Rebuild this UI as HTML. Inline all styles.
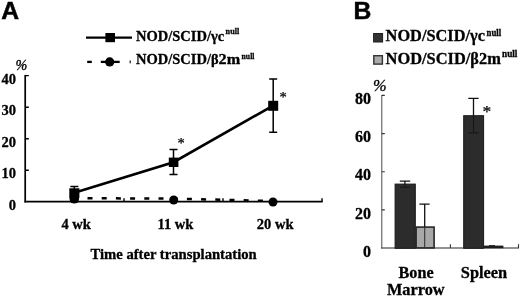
<!DOCTYPE html>
<html>
<head>
<meta charset="utf-8">
<title>Figure</title>
<style>
html,body{margin:0;padding:0;background:#fff;}
body{width:520px;height:297px;overflow:hidden;}
svg{display:block;will-change:transform;transform:translateZ(0);}
text{font-family:"Liberation Serif",serif;font-weight:bold;fill:#000;stroke:#000;stroke-width:0.3px;}
.sans{font-family:"Liberation Sans",sans-serif;font-weight:bold;stroke:#000;stroke-width:0.5px;}
.a{font-size:14.5px;}
.b{font-size:16px;}
.pct{font-style:italic;font-weight:normal;stroke:#000;stroke-width:0.35px;}
.ast{font-weight:normal;stroke:#000;stroke-width:0.25px;}
.sup{stroke:#000;stroke-width:0.3px;}
</style>
</head>
<body>
<svg width="520" height="297" viewBox="0 0 520 297">

<!-- Panel A -->
<text class="sans" x="1.2" y="19" style="font-size:24.7px">A</text>

<!-- legend A -->
<line x1="86" y1="37.6" x2="132" y2="37.6" stroke="#000" stroke-width="2.2"/>
<rect x="105.4" y="33" width="9.6" height="9.2" fill="#000"/>
<text class="a" x="136" y="40.5">NOD/SCID/γc</text>
<text class="a sup" x="225.6" y="34.2" style="font-size:9px" textLength="13.6" lengthAdjust="spacingAndGlyphs">null</text>
<g stroke="#000" stroke-width="2.3">
<line x1="87.2" y1="61.9" x2="91.8" y2="61.9"/>
<line x1="100.8" y1="61.9" x2="119.7" y2="61.9"/>
</g>
<rect x="129.6" y="60.5" width="1.2" height="2.8" fill="#111"/>
<circle cx="109.7" cy="61.9" r="4.6" fill="#000"/>
<text class="a" x="136" y="64.3">NOD/SCID/β</text>
<text class="a" x="218.6" y="64.3" textLength="21.6" lengthAdjust="spacingAndGlyphs">2m</text>
<text class="a sup" x="241.6" y="58.6" style="font-size:9px" textLength="12.8" lengthAdjust="spacingAndGlyphs">null</text>

<!-- axes A -->
<text class="pct" x="15.5" y="69.9" style="font-size:14.2px" textLength="11.8" lengthAdjust="spacingAndGlyphs">%</text>
<g stroke="#000" stroke-width="1.7" fill="none">
<path d="M25.2 74.9V202.4"/>
<path d="M24.4 201.6H322.6"/>
</g>
<g stroke="#000" stroke-width="1.4">
<path d="M25 75.6H28.8M25 107.2H28.8M25 138.7H28.8M25 170.3H28.8"/>
<path d="M124 202V198.3M223 202V198.3M322 202V198.3"/>
</g>
<g class="a" text-anchor="end">
<text x="16" y="83.8">40</text>
<text x="16" y="115.3">30</text>
<text x="16" y="146.8">20</text>
<text x="16" y="178.4">10</text>
<text x="16" y="210">0</text>
</g>
<g class="a" text-anchor="middle">
<text x="76.2" y="229">4 wk</text>
<text x="175.4" y="229">11 wk</text>
<text x="275.2" y="229">20 wk</text>
<text x="173.6" y="259.4" textLength="166.3" lengthAdjust="spacingAndGlyphs">Time after transplantation</text>
</g>

<!-- dashed series -->
<path d="M74.3 198.2L173.5 198.6L272.8 201" stroke="#000" stroke-width="2.5" fill="none" stroke-dasharray="5 9.2" stroke-dashoffset="-13.2"/>
<circle cx="74.3" cy="198.8" r="4.8" fill="#000"/>
<circle cx="173.7" cy="200" r="4.5" fill="#000"/>
<circle cx="273" cy="202" r="4.5" fill="#000"/>

<!-- solid series -->
<g stroke="#000" stroke-width="1.5">
<path d="M74.3 186.5V197M70.4 186.5H78.4"/>
<path d="M173.5 149.5V174.6M169.5 149.5H177.5M169.5 174.6H177.5"/>
<path d="M273.2 79V132.2M269.2 79H277.2M269.2 132.2H277.2"/>
</g>
<path d="M74.3 192.8L173.5 162.2L273.2 105.6" stroke="#000" stroke-width="2.6" fill="none"/>
<rect x="69.3" y="188.3" width="10.1" height="9.6" fill="#000"/>
<rect x="168.8" y="157.6" width="9.6" height="9.4" fill="#000"/>
<rect x="268.2" y="100.8" width="10" height="10" fill="#000"/>
<text class="a ast" x="177.5" y="148">*</text>
<text class="a ast" x="279.5" y="101.8">*</text>

<!-- Panel B -->
<text class="sans" x="353.4" y="19" style="font-size:24.7px">B</text>
<rect x="373.6" y="33.5" width="9" height="8.5" fill="#333" stroke="#1e1e1e" stroke-width="1"/>
<text class="b" x="385.6" y="41.3" textLength="99.3" lengthAdjust="spacingAndGlyphs">NOD/SCID/γc</text>
<text class="b sup" x="486.6" y="36.1" style="font-size:9.5px" textLength="14.6" lengthAdjust="spacingAndGlyphs">null</text>
<rect x="373.8" y="55.7" width="8.6" height="8.4" fill="#aaa" stroke="#333" stroke-width="1.4"/>
<text class="b" x="385.6" y="63.6" textLength="115.2" lengthAdjust="spacingAndGlyphs">NOD/SCID/β2m</text>
<text class="b sup" x="502" y="57" style="font-size:9.5px" textLength="15.4" lengthAdjust="spacingAndGlyphs">null</text>

<text class="pct" x="372.9" y="90.8" style="font-size:16.4px" textLength="13.6" lengthAdjust="spacingAndGlyphs">%</text>
<g stroke="#333" stroke-width="1.1" fill="none">
<path d="M381.8 95V248.5" stroke="#4c4c4c" stroke-width="1"/>
<path d="M381.3 248H519" stroke="#262626"/>
<path d="M381.8 95.4H384.8M381.8 133.6H384.8M381.8 171.7H384.8M381.8 209.9H384.8"/>
<path d="M450.4 248V244.3M518.5 248V244.3"/>
</g>
<g class="b" text-anchor="end">
<text x="371" y="104">80</text>
<text x="371" y="142.2">60</text>
<text x="371" y="180.4">40</text>
<text x="371" y="218.6">20</text>
<text x="371" y="257">0</text>
</g>
<g class="b" lengthAdjust="spacingAndGlyphs">
<text x="398.6" y="277.7" textLength="35" lengthAdjust="spacingAndGlyphs">Bone</text>
<text x="387" y="295.4" textLength="57.6" lengthAdjust="spacingAndGlyphs">Marrow</text>
<text x="460.8" y="277.7" textLength="46.4" lengthAdjust="spacingAndGlyphs">Spleen</text>
</g>

<!-- bars -->
<rect x="395.1" y="184.1" width="20.2" height="64.2" fill="#2c2c2c" stroke="#181818" stroke-width="1"/>
<rect x="416.1" y="227.1" width="18" height="20.8" fill="#a8a8a8" stroke="#262626" stroke-width="1.6"/>
<rect x="463.7" y="115.7" width="19.9" height="132.6" fill="#2c2c2c" stroke="#181818" stroke-width="1"/>
<rect x="484" y="245.6" width="19.4" height="2.6" fill="#1c1c1c"/>
<rect x="489" y="245" width="6" height="1" fill="#333"/>
<g stroke="#111" stroke-width="1.3">
<path d="M404.9 181.2V184M399.8 181.2H410.2"/>
<path d="M424.7 204.1V227M419.4 204.1H429.6"/>
<path d="M473.5 98.4V116M468.3 98.4H478.6"/>
</g>
<path d="M424.7 227V247.6" stroke="#333" stroke-width="1.1"/>
<g stroke="#0c0c0c" stroke-width="1.1" opacity="0.65">
<path d="M404.9 184V187.3M400 187.3H409.8"/>
<path d="M473.5 116V132.9M468.6 132.9H478.4"/>
</g>
<text class="ast" x="482.6" y="117.2" style="font-size:17.5px">*</text>
</svg>
</body>
</html>
